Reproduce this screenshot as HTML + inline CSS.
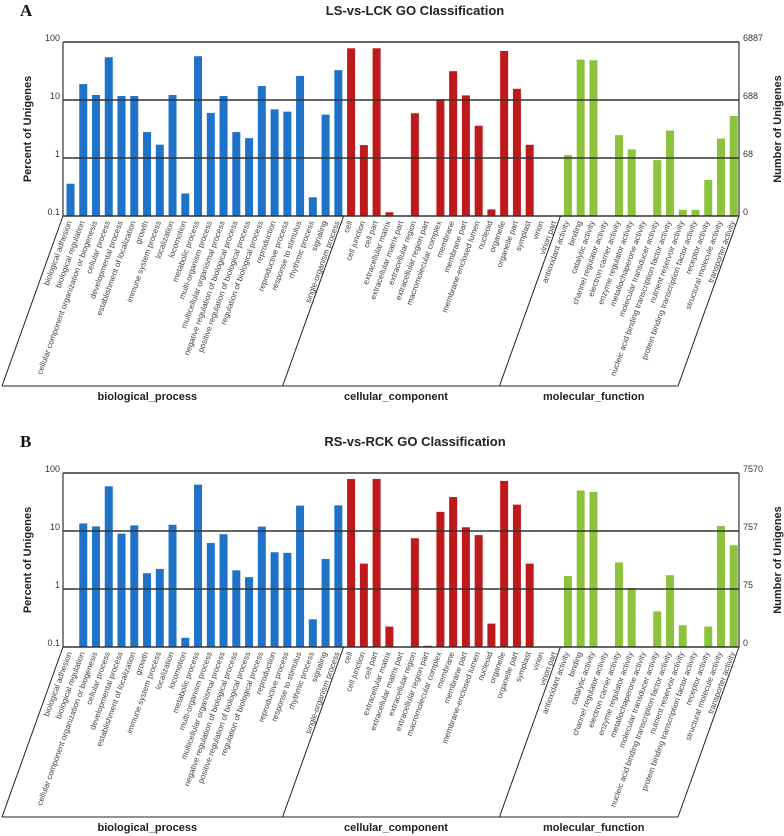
<!DOCTYPE html>
<html><head><meta charset="utf-8"><style>
body{margin:0;background:#fff;width:784px;height:836px;overflow:hidden}
svg{display:block}
text{font-family:"Liberation Sans","DejaVu Sans",sans-serif}
text.letter{font-family:"Liberation Serif",serif}
</style></head><body>
<svg id="chart" width="784" height="836" xmlns="http://www.w3.org/2000/svg"></svg>
<script>
const categories = ["biological adhesion","biological regulation","cellular component organization or biogenesis","cellular process","developmental process","establishment of localization","growth","immune system process","localization","locomotion","metabolic process","multi-organism process","multicellular organismal process","negative regulation of biological process","positive regulation of biological process","regulation of biological process","reproduction","reproductive process","response to stimulus","rhythmic process","signaling","single-organism process",
"cell","cell junction","cell part","extracellular matrix","extracellular matrix part","extracellular region","extracellular region part","macromolecular complex","membrane","membrane part","membrane-enclosed lumen","nucleoid","organelle","organelle part","symplast","virion","virion part",
"antioxidant activity","binding","catalytic activity","channel regulator activity","electron carrier activity","enzyme regulator activity","metallochaperone activity","molecular transducer activity","nucleic acid binding transcription factor activity","nutrient reservoir activity","protein binding transcription factor activity","receptor activity","structural molecule activity","transporter activity"];
const groupNames = ["biological_process","cellular_component","molecular_function"];
const groupSizes = [22,17,14];
const groupColors = ["#1E73C8","#BE1A1C","#8DC33C"];
const valuesA = [0.36,18.8,12.2,54.6,11.7,11.7,2.8,1.7,12.2,0.245,56.8,6.0,11.7,2.8,2.2,17.4,6.9,6.3,26,0.21,5.6,32.7,
78,1.67,78,0.116,0,5.9,0,10.3,31.4,12,3.6,0.13,70,15.6,1.69,0,0,
1.12,49.8,48.5,0,2.48,1.41,0,0.92,2.98,0.128,0.128,0.42,2.17,5.3];
const valuesB = [0.102,13.5,12,59,9.0,12.5,1.87,2.22,12.8,0.144,63,6.2,8.8,2.1,1.6,11.9,4.3,4.2,27.4,0.3,3.3,27.7,
79,2.74,79,0.225,0,7.5,0.105,21.4,38.5,11.6,8.5,0.253,73,28.5,2.74,0,0,
1.67,50,47,0,2.88,1.04,0,0.41,1.73,0.237,0,0.225,12.2,5.7];
const percentTicks = ["100","10","1","0.1"];
const countTicksA = ["6887","688","68","0"];
const countTicksB = ["7570","757","75","0"];

const NS="http://www.w3.org/2000/svg";
const svg=document.getElementById('chart');
function mk(tag,attrs,parent,txt){const e=document.createElementNS(NS,tag);for(const k in attrs)e.setAttribute(k,attrs[k]);if(txt!==undefined)e.textContent=txt;(parent||svg).appendChild(e);return e;}

function panel(letter,title,values,countTicks,oy){
  const g=mk('g',{transform:'translate(0,'+oy+')'});
  
  
  const L=63,R=739,T=42,B=216,dec=(B-T)/3;
  const slot=(R-L)/categories.length;
  const y=v=>B-(Math.log10(v)+1)*dec;
  const xs=i=>L+i*slot;
  let t=mk('text',{x:20,y:16,'class':'letter','font-size':17,'font-weight':'bold',fill:'#111'},g,letter);
  
  t=mk('text',{x:415,y:15,'text-anchor':'middle','font-size':13,'font-weight':'bold',fill:'#222'},g,title);
  
  let gi=0,cnt=0;
  for(let i=0;i<categories.length;i++){
    if(cnt>=groupSizes[gi]){gi++;cnt=0;}
    cnt++;
    const v=values[i];
    if(v>0){
      const yt=y(v);
      const r=mk('rect',{x:xs(i)+3.5,y:yt,width:8,height:B-yt,fill:groupColors[gi]},g);
      
      
    }
    const lx=xs(i)+slot/2+2.5;
    const lt=mk('text',{x:lx,y:222,'text-anchor':'end','font-size':8,fill:'#444',transform:'rotate(-70 '+lx+' 222)'},g,categories[i]);
    
    
  }
  for(let k=0;k<4;k++){
    const yy=T+k*dec;
    const ln=mk('line',{x1:L,x2:R,y1:yy,y2:yy,stroke:'#333','stroke-width':1.5},g);
    
    const a=mk('text',{x:L-3,y:yy-1,'text-anchor':'end','font-size':9,fill:'#333'},g,percentTicks[k]);
    
    const b=mk('text',{x:R+4,y:yy-1,'font-size':9,fill:'#333'},g,countTicks[k]);
    
  }
  let ax=mk('line',{x1:L,x2:L,y1:T,y2:B,stroke:'#333','stroke-width':1.2},g);
  
  ax=mk('line',{x1:R,x2:R,y1:T,y2:B,stroke:'#333','stroke-width':1.2},g);
  
  t=mk('text',{x:0,y:0,'text-anchor':'middle','font-size':11,'font-weight':'bold',fill:'#222',transform:'translate(31,129) rotate(-90)'},g,'Percent of Unigenes');
  
  t=mk('text',{x:0,y:0,'text-anchor':'middle','font-size':11,'font-weight':'bold',fill:'#222',transform:'translate(781,129) rotate(-90)'},g,'Number of Unigenes');
  
  const bot=386,shift=61;
  let acc=0;const bounds=[0];
  groupSizes.forEach(s=>{acc+=s;bounds.push(acc);});
  bounds.forEach(b=>{
    const xx=xs(b);
    const d=mk('line',{x1:xx,y1:B,x2:xx-shift,y2:bot,stroke:'#222','stroke-width':1},g);
    
  });
  const hl=mk('line',{x1:xs(0)-shift,x2:xs(categories.length)-shift,y1:bot,y2:bot,stroke:'#222','stroke-width':1},g);
  
  for(let k=0;k<3;k++){
    const cx=(xs(bounds[k])+xs(bounds[k+1]))/2-shift;
    const gl=mk('text',{x:cx+5,y:bot+14,'text-anchor':'middle','font-size':11,'font-weight':'bold',fill:'#222'},g,groupNames[k]);
    
  }
}
panel('A','LS-vs-LCK GO Classification',valuesA,countTicksA,0);
panel('B','RS-vs-RCK GO Classification',valuesB,countTicksB,431);
</script>
</body></html>
